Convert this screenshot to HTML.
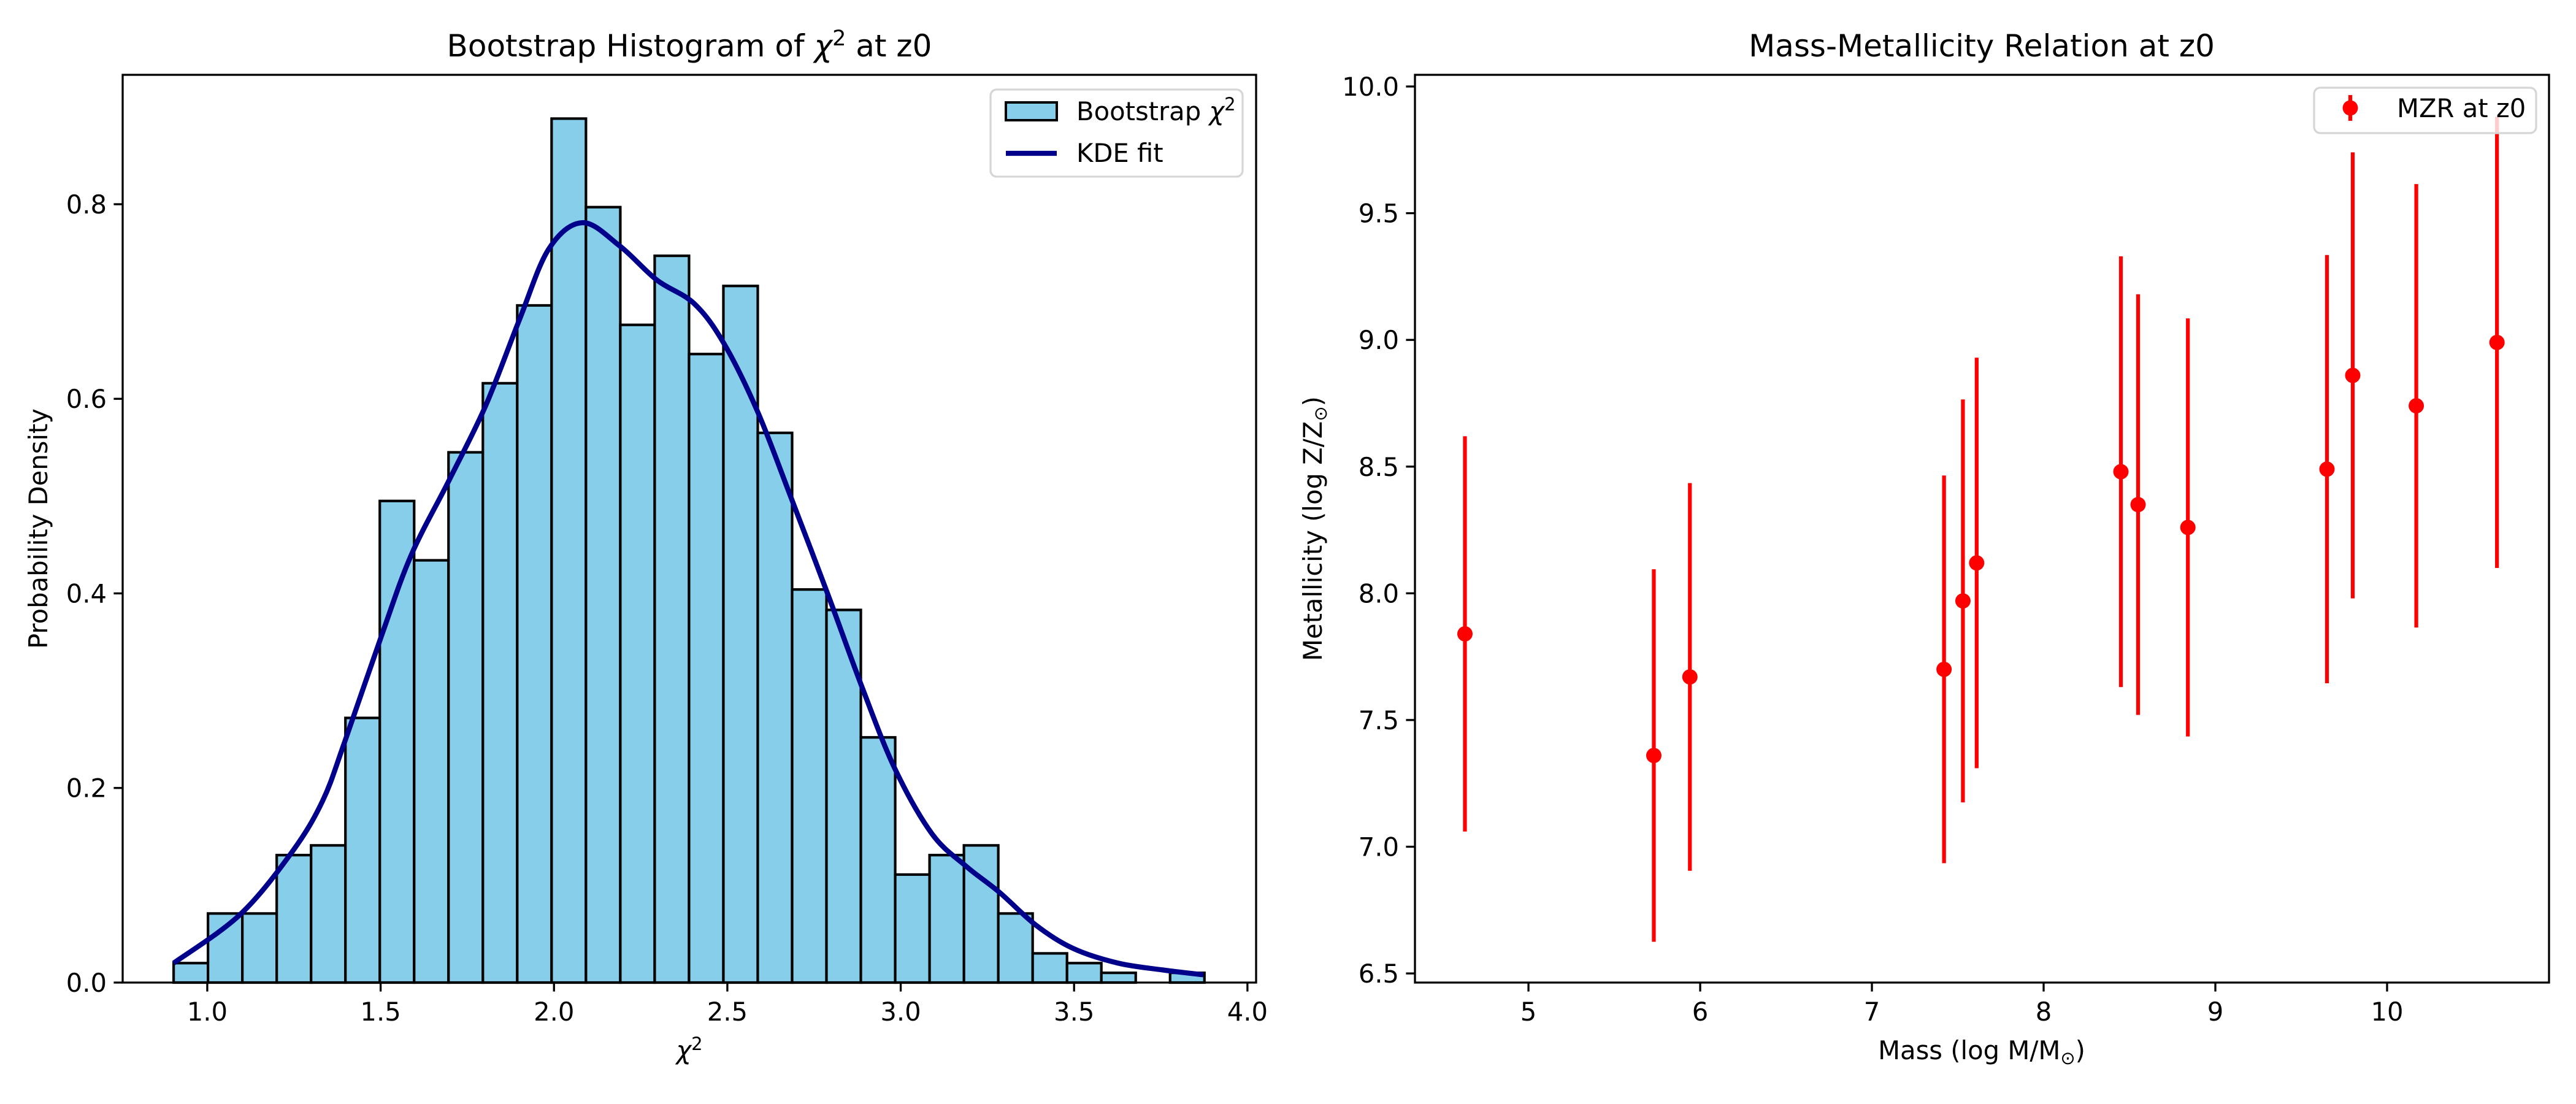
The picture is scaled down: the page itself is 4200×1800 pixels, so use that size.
<!DOCTYPE html>
<html><head><meta charset="utf-8"><style>
html,body{margin:0;padding:0;background:#fff;}
svg{display:block;font-family:"DejaVu Sans","Liberation Sans",sans-serif;}
</style></head><body>
<svg id="fig" width="4200" height="1800" viewBox="0 0 4200 1800" xmlns="http://www.w3.org/2000/svg">
<rect x="0" y="0" width="4200" height="1800" fill="#fff"/>
<g id="left"></g>
<g id="right"></g>
</svg>
<script>
// ---- Left chart data ----
const binStart = 0.903;
const binWidth = 0.0991;
const histDensity = [0.020,0.071,0.071,0.131,0.141,0.272,0.495,0.434,0.545,0.616,0.696,0.888,0.797,0.676,0.747,0.646,0.716,0.565,0.404,0.383,0.252,0.111,0.131,0.141,0.071,0.030,0.020,0.010,0.000,0.010];
const kdeX = [0.903,1.095,1.246,1.333,1.396,1.504,1.589,1.697,1.803,1.90,1.985,2.082,2.19,2.297,2.404,2.49,2.587,2.683,2.79,2.887,2.983,3.09,3.187,3.284,3.39,3.498,3.627,3.755,3.873];
const kdeY = [0.020,0.070,0.135,0.187,0.247,0.358,0.440,0.516,0.593,0.681,0.754,0.781,0.757,0.722,0.698,0.657,0.587,0.499,0.399,0.305,0.220,0.153,0.120,0.093,0.059,0.035,0.020,0.013,0.008];
const leftXTicks = [1.0,1.5,2.0,2.5,3.0,3.5,4.0];
const leftYTicks = [0.0,0.2,0.4,0.6,0.8];
// ---- Right chart data ----
const mass = [4.63,5.73,5.94,7.42,7.53,7.61,8.45,8.55,8.84,9.65,9.80,10.17,10.64];
const metal = [7.84,7.36,7.67,7.70,7.97,8.12,8.48,8.35,8.26,8.49,8.86,8.74,8.99];
const metalErr = [0.78,0.735,0.765,0.765,0.795,0.81,0.85,0.83,0.825,0.845,0.88,0.875,0.89];
const rightXTicks = [5,6,7,8,9,10];
const rightYTicks = [6.5,7.0,7.5,8.0,8.5,9.0,9.5,10.0];

const NS = "http://www.w3.org/2000/svg";
function mk(parent, tag, attrs, text){
  const e = document.createElementNS(NS, tag);
  for (const k in attrs) e.setAttribute(k, attrs[k]);
  if (text !== undefined) e.textContent = text;
  parent.appendChild(e);
  return e;
}
const FS = 41.7;

// ---- Left axes ----
const L = document.getElementById('left');
const lx0=200, lx1=2048, ly0=122, ly1=1602;
const lxMin=0.756, lxMax=4.025, lyMin=0, lyMax=0.933;
const lsx = v => lx0 + (v-lxMin)/(lxMax-lxMin)*(lx1-lx0);
const lsy = v => ly1 - (v-lyMin)/(lyMax-lyMin)*(ly1-ly0);

histDensity.forEach((d,i)=>{
  const a = binStart + i*binWidth, b = a + binWidth;
  const r = mk(L,'rect',{x:lsx(a),y:lsy(d),width:lsx(b)-lsx(a),height:lsy(0)-lsy(d),fill:'#87ceeb',stroke:'#000','stroke-width':4.2});
  
  
});
// smooth Catmull-Rom path through KDE points
const pts = kdeX.map((x,i)=>[lsx(x), lsy(kdeY[i])]);
let dstr = 'M'+pts[0][0].toFixed(1)+','+pts[0][1].toFixed(1);
for (let i=0;i<pts.length-1;i++){
  const p0=pts[Math.max(0,i-1)], p1=pts[i], p2=pts[i+1], p3=pts[Math.min(pts.length-1,i+2)];
  const c1=[p1[0]+(p2[0]-p0[0])/6, p1[1]+(p2[1]-p0[1])/6];
  const c2=[p2[0]-(p3[0]-p1[0])/6, p2[1]-(p3[1]-p1[1])/6];
  dstr += ' C'+c1[0].toFixed(1)+','+c1[1].toFixed(1)+' '+c2[0].toFixed(1)+','+c2[1].toFixed(1)+' '+p2[0].toFixed(1)+','+p2[1].toFixed(1);
}
const kde = mk(L,'path',{d:dstr,fill:'none',stroke:'#00008b','stroke-width':8.3,'stroke-linejoin':'round'});



mk(L,'rect',{x:lx0,y:ly0,width:lx1-lx0,height:ly1-ly0,fill:'none',stroke:'#000','stroke-width':3.3,});
leftXTicks.forEach(t=>{
  const x=lsx(t);
  const tk = mk(L,'line',{x1:x,y1:ly1,x2:x,y2:ly1+14.6,stroke:'#000','stroke-width':3.3});
  
  
  const lb = mk(L,'text',{x:x,y:ly1+62,'font-size':FS,'text-anchor':'middle'},t.toFixed(1));
  
  
});
leftYTicks.forEach(t=>{
  const y=lsy(t);
  const tk = mk(L,'line',{x1:lx0-14.6,y1:y,x2:lx0,y2:y,stroke:'#000','stroke-width':3.3});
  
  
  const lb = mk(L,'text',{x:lx0-26,y:y+15,'font-size':FS,'text-anchor':'end'},t.toFixed(1));
  
  
});
</script>
<script>
(function(){
const L=document.getElementById('left');
L.insertAdjacentHTML('beforeend',
 '<text x="1124" y="92" font-size="50" text-anchor="middle">Bootstrap Histogram of <tspan font-style="italic">χ</tspan><tspan font-size="35" dy="-18">2</tspan><tspan dy="18"> at z0</tspan></text>'+
 '<text x="1124" y="1727" font-size="41.7" text-anchor="middle"><tspan font-style="italic">χ</tspan><tspan font-size="29" dy="-15">2</tspan></text>'+
 '<text transform="translate(77,862) rotate(-90)" font-size="41.7" text-anchor="middle">Probability Density</text>'+
 '<g>'+
 '<rect x="1615" y="146" width="411" height="142" rx="10" fill="#fff" fill-opacity="0.8" stroke="#d6d6d6" stroke-width="3.3"/>'+
 '<rect x="1640" y="167" width="83" height="29" fill="#87ceeb" stroke="#000" stroke-width="4"/>'+
 '<text x="1755" y="196" font-size="41.7">Bootstrap <tspan font-style="italic">χ</tspan><tspan font-size="29" dy="-16">2</tspan></text>'+
 '<line x1="1640" y1="250" x2="1723" y2="250" stroke="#00008b" stroke-width="8.3"/>'+
 '<text x="1755" y="264" font-size="41.7">KDE fit</text></g>');
})();

// ---- Right axes ----
const R = document.getElementById('right');
const rx0=2307, rx1=4156, ry0=122, ry1=1602;
const rxMin=4.339, rxMax=10.943, ryMin=6.464, ryMax=10.046;
const rsx = v => rx0 + (v-rxMin)/(rxMax-rxMin)*(rx1-rx0);
const rsy = v => ry1 - (v-ryMin)/(ryMax-ryMin)*(ry1-ry0);
mass.forEach((m,i)=>{
  const x=rsx(m);
  const eb = mk(R,'line',{x1:x,y1:rsy(metal[i]-metalErr[i]),x2:x,y2:rsy(metal[i]+metalErr[i]),stroke:'#ff0000','stroke-width':6.25});
  
  
  const pt = mk(R,'circle',{cx:x,cy:rsy(metal[i]),r:12.5,fill:'#ff0000'});
  
  
});
mk(R,'rect',{x:rx0,y:ry0,width:rx1-rx0,height:ry1-ry0,fill:'none',stroke:'#000','stroke-width':3.3,});
rightXTicks.forEach(t=>{
  const x=rsx(t);
  const tk = mk(R,'line',{x1:x,y1:ry1,x2:x,y2:ry1+14.6,stroke:'#000','stroke-width':3.3});
  
  
  const lb = mk(R,'text',{x:x,y:ry1+62,'font-size':FS,'text-anchor':'middle'},String(t));
  
  
});
rightYTicks.forEach(t=>{
  const y=rsy(t);
  const tk = mk(R,'line',{x1:rx0-14.6,y1:y,x2:rx0,y2:y,stroke:'#000','stroke-width':3.3});
  
  
  const lb = mk(R,'text',{x:rx0-26,y:y+15,'font-size':FS,'text-anchor':'end'},t.toFixed(1));
  
  
});
R.insertAdjacentHTML('beforeend',
 '<text x="3231" y="92" font-size="50" text-anchor="middle">Mass-Metallicity Relation at z0</text>'+
 '<text x="3231" y="1727" font-size="41.7" text-anchor="middle">Mass (log M/M<tspan font-size="29" dy="8">⊙</tspan><tspan dy="-8">)</tspan></text>'+
 '<text transform="translate(2155,862) rotate(-90)" font-size="41.7" text-anchor="middle">Metallicity (log Z/Z<tspan font-size="29" dy="8">⊙</tspan><tspan dy="-8">)</tspan></text>'+
 '<g>'+
 '<rect x="3773" y="143" width="362" height="74" rx="10" fill="#fff" fill-opacity="0.8" stroke="#d6d6d6" stroke-width="3.3"/>'+
 '<line x1="3832" y1="155" x2="3832" y2="197" stroke="#ff0000" stroke-width="6.25"/>'+
 '<circle cx="3832" cy="176" r="12.5" fill="#ff0000"/>'+
 '<text x="3908" y="191" font-size="41.7">MZR at z0</text></g>');
</script>
</body></html>
